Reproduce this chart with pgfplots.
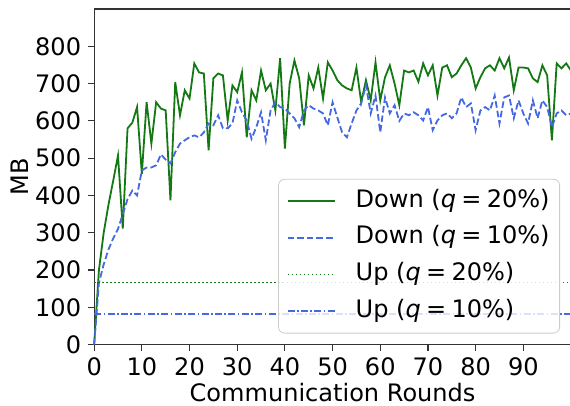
\documentclass[border=0pt]{standalone}
\usepackage{fontspec}
\setmainfont{DejaVu Sans}
\usepackage{pgfplots}
\pgfplotsset{compat=1.18}

\definecolor{dgreen}{RGB}{20,120,20}
\definecolor{rblue}{RGB}{70,105,225}
\newcommand{\fs}{\fontsize{12}{14.4}\selectfont}
\newcommand{\qeq}[1]{\textit{q}\hspace{0.22em}=\hspace{0.22em}#1\%}

\begin{document}
\begin{tikzpicture}
\begin{axis}[
  name=ax,
  scale only axis,
  width=238pt, height=167.5pt,
  xmin=0, xmax=100, ymin=0, ymax=900,
  xtick={0,10,...,90}, ytick={0,100,...,800},
  axis x line*=bottom, axis y line*=left,
  tick align=outside, major tick length=3pt,
  axis line style={black!80, line width=0.6pt},
  tick style={black!80, line width=0.6pt},
  ticklabel style={font=\fs},
  /pgf/number format/assume math mode=true,
  xlabel={Communication Rounds}, ylabel={MB},
  label style={font=\fs},
  xlabel style={at={(axis description cs:0.5,0)}, anchor=base, yshift=-28.5pt},
  ylabel shift=-3.5pt,
  clip=false,
  legend cell align=left,
  legend image code/.code={\draw[#1] (0pt,0pt) -- (23.5pt,0pt);},
  legend style={at={(0.977,0.033)}, anchor=south east,
    draw=black!20, rounded corners=3pt, fill=white, fill opacity=0.8,
    text opacity=1, inner xsep=4pt, inner ysep=5pt, font=\fs,
    nodes={text height=9pt, text depth=3pt, inner ysep=0pt, inner xsep=1pt},
    row sep=6.25pt, column sep=9pt},
]
% Down, q = 20%
\addplot[dgreen, line width=0.9pt] coordinates {
(0,0) (1,200) (2,300) (3,375) (4,440) (5,507) (6,311) (7,580) (8,595) (9,637)
(10,458) (11,650) (12,539) (13,650) (14,633) (15,628) (16,387) (17,704) (18,615) (19,682)
(20,660) (21,754) (22,730) (23,727) (24,521) (25,714) (26,727) (27,722) (28,601) (29,695)
(30,677) (31,730) (32,556) (33,682) (34,655) (35,735) (36,682) (37,700) (38,628) (39,768)
(40,526) (41,700) (42,762) (43,714) (44,588) (45,722) (46,687) (47,743) (48,660) (49,757)
(50,735) (51,709) (52,695) (53,687) (54,682) (55,743) (56,650) (57,709) (58,655) (59,757)
(60,655) (61,717) (62,749) (63,700) (64,642) (65,735) (66,730) (67,735) (68,705) (69,754)
(70,722) (71,749) (72,668) (73,743) (74,749) (75,717) (76,727) (77,749) (78,768) (79,743)
(80,687) (81,717) (82,741) (83,749) (84,735) (85,768) (86,741) (87,770) (88,682) (89,743)
(90,743) (91,741) (92,714) (93,704) (94,749) (95,722) (96,548) (97,754) (98,741) (99,754)
(100,735)
};
\addlegendentry{Down (\qeq{20})}
% Down, q = 10%
\addplot[rblue, line width=0.9pt, dash pattern=on 3.3pt off 1.5pt] coordinates {
(0,0) (1,165) (2,215) (3,255) (4,285) (5,310) (6,350) (7,390) (8,413) (9,400)
(10,467) (11,475) (12,475) (13,481) (14,510) (15,496) (16,486) (17,516) (18,539) (19,548)
(20,556) (21,561) (22,556) (23,569) (24,593) (25,588) (26,615) (27,580) (28,580) (29,593)
(30,655) (31,623) (32,601) (33,552) (34,583) (35,623) (36,548) (37,628) (38,650) (39,637)
(40,633) (41,620) (42,607) (43,583) (44,628) (45,642) (46,633) (47,628) (48,620) (49,588)
(50,650) (51,609) (52,569) (53,556) (54,593) (55,628) (56,647) (57,695) (58,620) (59,668)
(60,569) (61,663) (62,620) (63,642) (64,600) (65,620) (66,615) (67,623) (68,615) (69,601)
(70,637) (71,575) (72,601) (73,615) (74,620) (75,607) (76,620) (77,663) (78,637) (79,647)
(80,575) (81,628) (82,637) (83,628) (84,668) (85,593) (86,663) (87,668) (88,607) (89,655)
(90,620) (91,593) (92,655) (93,607) (94,655) (95,637) (96,583) (97,620) (98,628) (99,615)
(100,620)
};
\addlegendentry{Down (\qeq{10})}
% Up, q = 20%
\addplot[dgreen, line width=0.7pt, dash pattern=on 0.7pt off 1.3pt] coordinates {
(0,166) (100,166)
};
\addlegendentry{Up (\qeq{20})}
% Up, q = 10%
\addplot[rblue, line width=1pt, dash pattern=on 3.5pt off 1.2pt on 0.8pt off 1.2pt] coordinates {
(0,83) (100,83)
};
\addlegendentry{Up (\qeq{10})}
\draw[black!80, line width=0.6pt] (rel axis cs:0,1) -- (rel axis cs:1,1);
\end{axis}
\pgfresetboundingbox
\path ([xshift=-47pt,yshift=-30.5pt]ax.south west) rectangle ([xshift=-0.5pt,yshift=4.5pt]ax.north east);
\end{tikzpicture}
\end{document}
